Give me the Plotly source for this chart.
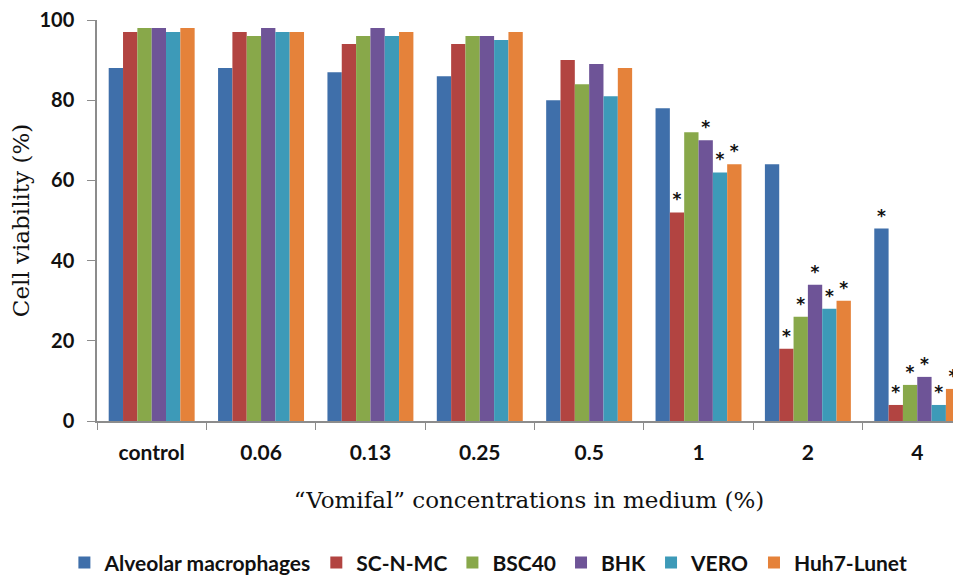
import plotly.graph_objects as go

categories = ["control", "0.06", "0.13", "0.25", "0.5", "1", "2", "4"]
series_names = ["Alveolar macrophages", "SC-N-MC", "BSC40", "BHK", "VERO", "Huh7-Lunet"]
alveolar = [88, 88, 87, 86, 80, 78, 64, 48]
scnmc = [97, 97, 94, 94, 90, 52, 18, 4]
bsc40 = [98, 96, 96, 96, 84, 72, 26, 9]
bhk = [98, 98, 98, 96, 89, 70, 34, 11]
vero = [97, 97, 96, 95, 81, 62, 28, 4]
huh7 = [98, 97, 97, 97, 88, 64, 30, 8]
# significance marks (1 = asterisk)
sig_alveolar = [0, 0, 0, 0, 0, 0, 0, 1]
sig_scnmc = [0, 0, 0, 0, 0, 1, 1, 1]
sig_bsc40 = [0, 0, 0, 0, 0, 0, 1, 1]
sig_bhk = [0, 0, 0, 0, 0, 1, 1, 1]
sig_vero = [0, 0, 0, 0, 0, 1, 1, 1]
sig_huh7 = [0, 0, 0, 0, 0, 1, 1, 1]
y_ticks = [0, 20, 40, 60, 80, 100]

values = [alveolar, scnmc, bsc40, bhk, vero, huh7]
sigs = [sig_alveolar, sig_scnmc, sig_bsc40, sig_bhk, sig_vero, sig_huh7]
colors = ["#3F6FAA", "#B24441", "#88A84A", "#6E5497", "#3D9AB8", "#E5823A"]

sans = "Lato, Liberation Sans, sans-serif"
serif = "DejaVu Serif, Liberation Serif, serif"

fig = go.Figure()
for name, vals, sg, col in zip(series_names, values, sigs, colors):
    fig.add_trace(go.Bar(
        name=name, x=categories, y=vals, marker=dict(color=col, line=dict(width=0)),
        text=["*" if s else "" for s in sg], textposition="outside",
        textfont=dict(family="DejaVu Sans, sans-serif", size=17, color="#111", weight="bold"),
        cliponaxis=False,
    ))

fig.update_layout(
    width=953, height=569,
    margin=dict(l=89, r=0, t=12, b=156, autoexpand=False),
    paper_bgcolor="white", plot_bgcolor="white",
    barmode="group", bargap=0.214, bargroupgap=0,
    legend=dict(orientation="h", x=0.453, xanchor="center", y=-0.354, yanchor="middle",
                font=dict(family=sans, size=21, color="#111", weight="bold"), itemwidth=30,
                traceorder="normal", itemclick=False),
    xaxis=dict(
        range=[-0.5, 7.4], showline=True, linecolor="#8c8c8c", linewidth=1.5,
        ticks="outside", tickson="boundaries", ticklen=7, tickcolor="#8c8c8c",
        tickfont=dict(family=sans, size=21, color="#111", weight="bold"),
        ticklabelstandoff=12, automargin=False, ticklabeloverflow="allow",
        showgrid=False,
        title=dict(text="“Vomifal” concentrations in medium (%)",
                   font=dict(family=serif, size=23, color="#111"), standoff=29),
    ),
    yaxis=dict(
        range=[0, 100], tickvals=y_ticks, showline=True, linecolor="#8c8c8c", linewidth=1.5,
        ticks="outside", ticklen=8, tickcolor="#8c8c8c", showgrid=False, zeroline=False,
        tickfont=dict(family=sans, size=20, color="#111", weight="bold"),
        ticklabelstandoff=9, automargin=False, ticklabeloverflow="allow",
        title=dict(text="Cell viability (%)", font=dict(family=serif, size=23, color="#111"), standoff=6),
    ),
)

fig.write_html("out.html")
